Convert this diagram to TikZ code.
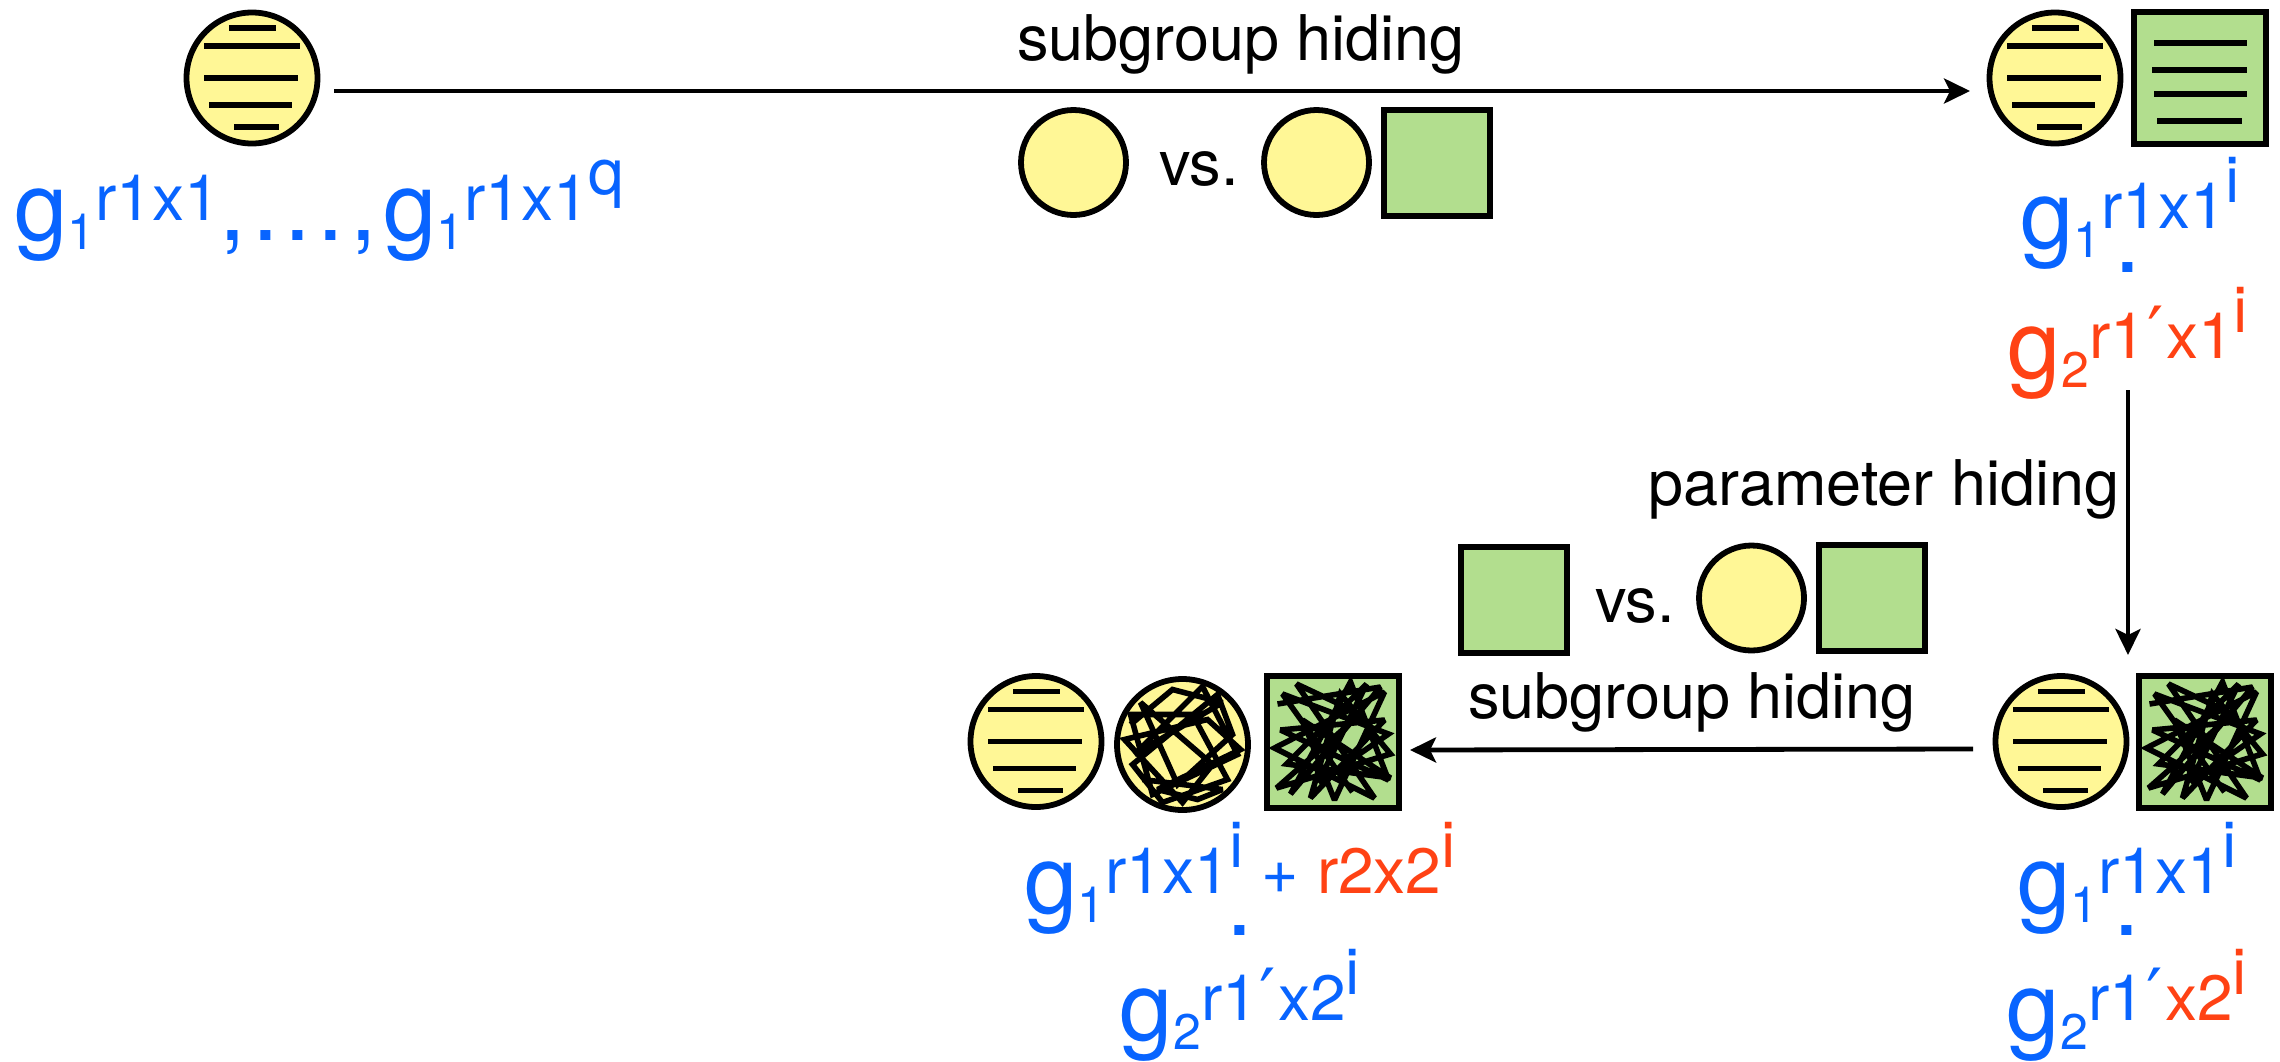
\documentclass[tikz,border=0pt]{standalone}
\usepackage{fontspec}
\setmainfont{TeX Gyre Heros}
\newfontfamily\djv{DejaVu Sans}
\usetikzlibrary{arrows.meta}
\definecolor{cyel}{RGB}{255,247,150}
\definecolor{cgrn}{RGB}{178,222,142}
\definecolor{cblu}{RGB}{8,100,255}
\definecolor{cred}{RGB}{255,66,20}
\newcommand\Gm{\fontsize{48}{48}\selectfont}
\newcommand\Sb{\fontsize{25}{25}\selectfont}
\newcommand\Sp{\fontsize{32}{32}\selectfont}
\newcommand\Lb{\fontsize{31.5}{31.5}\selectfont}
\newcommand\gsb[1]{\raisebox{-4.5pt}{\Sb #1}}
\newcommand\gsp[1]{\raisebox{10pt}{\Sp #1}}
\newcommand\gss[1]{\raisebox{13pt}{#1}}
\newcommand\prm{\kern1pt{\djv\fontsize{36}{36}\selectfont ′}\kern1pt}
\newcommand\hatchc[1]{%
  \draw[hatch] ([shift={(-23,-50)}]#1.center) -- ([shift={(24,-50)}]#1.center);
  \draw[hatch] ([shift={(-48,-32)}]#1.center) -- ([shift={(48,-32)}]#1.center);
  \draw[hatch] ([shift={(-48,0)}]#1.center) -- ([shift={(46,0)}]#1.center);
  \draw[hatch] ([shift={(-43,27)}]#1.center) -- ([shift={(40,27)}]#1.center);
  \draw[hatch] ([shift={(-18,49)}]#1.center) -- ([shift={(27,49)}]#1.center);}
\newcommand\scribSq{%
  \draw[scribline] ([shift={(-55,-38)}]path picture bounding box.center)
   \foreach \p in {(48,-55),(-42,52),(18,-60),(56,38),(-52,-12),(52,-22),(-22,56),
     (8,-48),(58,12),(-56,46),(28,-28),(-36,-58),(42,56),(-58,6),(52,-50),(2,58),
     (-30,-22),(58,36),(-46,22),(34,-58),(-14,40),(56,-8),(-50,-48),(20,50)}
   { -- ([shift={\p}]path picture bounding box.center)};}
\newcommand\scribCi{%
  \draw[scribline] ([shift={(-52,-20)}]path picture bounding box.center)
   \foreach \p in {(-10,-55),(40,-42),(-48,10),(20,-58),(55,10),(-30,50),(-52,-30),
     (10,-30),(45,35),(-20,58),(-50,20),(35,-50),(50,-10),(-5,40),(-42,-42),(30,20),
     (0,58),(-58,-5),(25,-25),(58,5),(-25,45),(15,55),(40,45),(-40,35)}
   { -- ([shift={\p}]path picture bounding box.center)};}
\begin{document}
\begin{tikzpicture}[x=0.5pt,y=-0.5pt,
  every node/.style={inner sep=0pt, outer sep=0pt},
  ycirc/.style={circle, draw, line width=2.9pt, fill=cyel, minimum size=#1},
  gsq/.style={rectangle, draw, line width=3pt, fill=cgrn, minimum size=#1},
  hatch/.style={line width=2.8pt},
  scribline/.style={line width=2.8pt, line join=miter, miter limit=2.5},
  scribsq/.style={path picture={\scribSq}},
  scribci/.style={path picture={\scribCi}},
  arr/.style={line width=2.4pt, -{Stealth[length=13pt,width=12.5pt,inset=3pt]}},
  lbl/.style={font=\Lb, anchor=base},
]
\path[fill=white] (0,0) rectangle (2280,1061);
\useasboundingbox (0,0) rectangle (2280,1061);

% ---- top left
\node[ycirc=65.5pt] (c1) at (252,78) {};
\hatchc{c1}
\node[anchor=base west, text=cblu] (l1) at (14,240)
  {\Gm g\gsb{1}\gsp{r1x1},\kern3pt.\kern3pt.\kern3pt.\kern3pt,\kern3pt g\gsb{1}\gsp{r1x1\gss{q}}};

% ---- top arrow and label
\coordinate (a1s) at (334,91);
\coordinate (a1e) at (1970,91);
\draw[arr] (a1s) -- (a1e);
\node[lbl] (t1) at (1241,60) {subgroup hiding};
\node[ycirc=52.5pt] (v1) at (1073.5,162.5) {};
\node[lbl] (v1t) at (1199,185) {vs.};
\node[ycirc=52.5pt] (v2) at (1316.5,162.5) {};
\node[gsq=53pt] (v3) at (1436.5,163) {};

% ---- top right
\node[ycirc=65.5pt] (c2) at (2055,78) {};
\hatchc{c2}
\node[gsq=66pt] (s2) at (2199.5,78) {};
\draw[hatch] ([shift={(-45.5,-35)}]s2.center) -- ([shift={(47.5,-35)}]s2.center);
\draw[hatch] ([shift={(-47.5,-8)}]s2.center) -- ([shift={(47.5,-8)}]s2.center);
\draw[hatch] ([shift={(-45.5,16)}]s2.center) -- ([shift={(47.5,16)}]s2.center);
\draw[hatch] ([shift={(-42.5,43)}]s2.center) -- ([shift={(42.5,43)}]s2.center);
\node[anchor=base, text=cblu] (tr1) at (2130,248) {\Gm g\gsb{1}\gsp{r1x1\gss{i}}};
\node[anchor=base, text=cblu] (trd) at (2128,272) {\Gm .};
\node[anchor=base, text=cred] (tr2) at (2128,378) {\Gm g\gsb{2}\gsp{r1\prm x1\gss{i}}};

% ---- down arrow
\coordinate (a2s) at (2128,390);
\coordinate (a2e) at (2128,655);
\draw[arr] (a2s) -- (a2e);
\node[lbl] (t2) at (1884,505) {parameter hiding};
\node[gsq=53pt] (m1) at (1513.5,600) {};
\node[lbl] (m2) at (1635,622) {vs.};
\node[ycirc=52.5pt] (m3) at (1751.5,598) {};
\node[gsq=53pt] (m4) at (1871.5,598) {};
\node[lbl] (t3) at (1692,718) {subgroup hiding};

% ---- lower arrow
\coordinate (a3s) at (1973,749);
\coordinate (a3e) at (1410,750);
\draw[arr] (a3s) -- (a3e);

% ---- bottom right
\node[ycirc=65.5pt] (r1) at (2061,741.5) {};
\hatchc{r1}
\node[gsq=66pt, scribsq] (r2) at (2204.5,742) {};
\node[anchor=base, text=cblu] (br1) at (2127,913) {\Gm g\gsb{1}\gsp{r1x1\gss{i}}};
\node[anchor=base, text=cblu] (brd) at (2127,935) {\Gm .};
\node[anchor=base, text=cblu] (br2) at (2127,1040) {\Gm g\gsb{2}\gsp{r1\prm{\color{cred}x2\gss{i}}}};

% ---- bottom left
\node[ycirc=65.5pt] (b1) at (1036,741.5) {};
\hatchc{b1}
\node[ycirc=65.5pt, scribci] (b2) at (1182.5,744.5) {};
\node[gsq=66pt, scribsq] (b3) at (1332.5,742) {};
\node[anchor=base, text=cblu] (bl1) at (1240,913) {\Gm g\gsb{1}\gsp{r1x1\gss{i} + {\color{cred}r2x2\gss{i}}}};
\node[anchor=base, text=cblu] (bld) at (1240,935) {\Gm .};
\node[anchor=base, text=cblu] (bl2) at (1240,1040) {\Gm g\gsb{2}\gsp{r1\prm x2\gss{i}}};
\end{tikzpicture}
\end{document}
